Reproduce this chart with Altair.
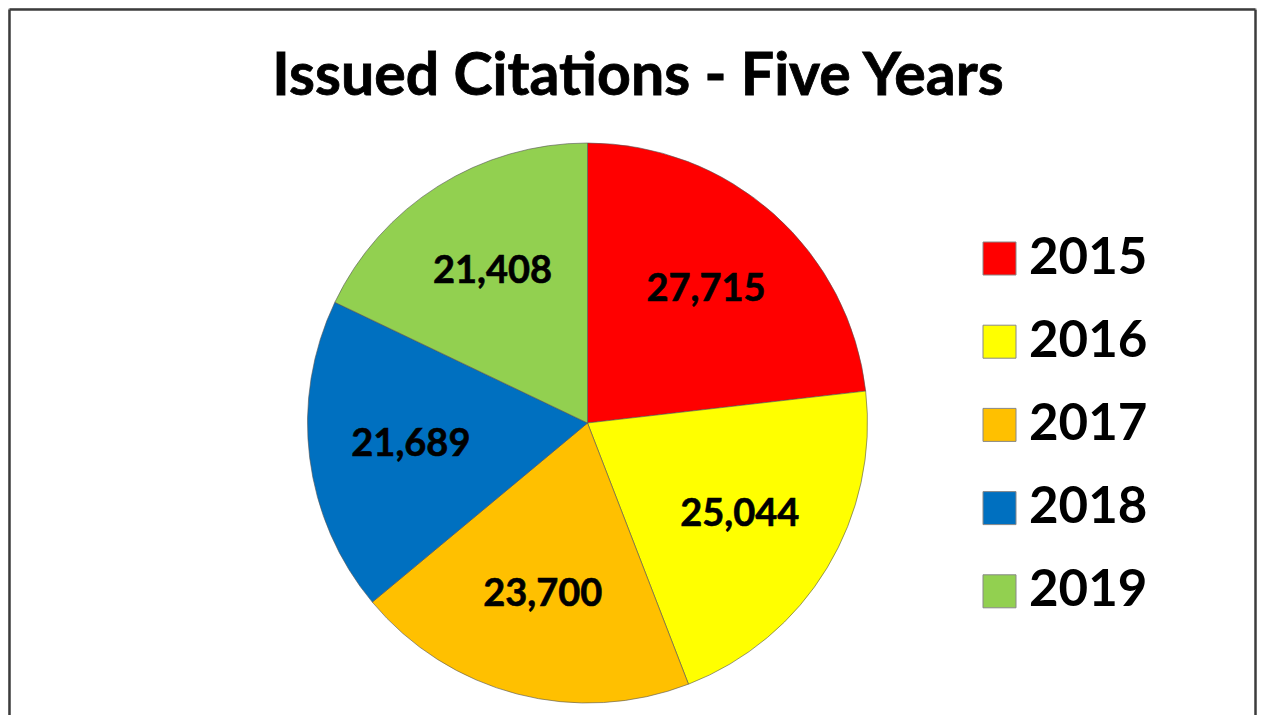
import altair as alt
import pandas as pd

years = ["2015", "2016", "2017", "2018", "2019"]
citations = [27715, 25044, 23700, 21689, 21408]
colors = ["#FF0000", "#FFFF00", "#FFC000", "#0070C0", "#92D050"]
title_text = "Issued Citations - Five Years"

df = pd.DataFrame({"year": years, "citations": citations})
df["label"] = [f"{v:,}" for v in citations]
df["order"] = range(len(years))

W, H = 1249, 707
CX, CY, R = 579.5, 415, 280

color = alt.Color(
    "year:N",
    scale=alt.Scale(domain=years, range=colors),
    legend=alt.Legend(
        title=None,
        orient="none",
        legendX=966,
        legendY=225,
        symbolType="square",
        symbolSize=1089,
        symbolStrokeWidth=1,
        symbolStrokeColor="#888888",
        labelFont="Lato",
        labelFontWeight="bold",
        labelFontSize=51,
        labelColor="black",
        labelOffset=4,
        rowPadding=31.2,
        labelLimit=400,
    ),
)

base = alt.Chart(df).encode(
    theta=alt.Theta("citations:Q", stack=True),
    order=alt.Order("order:Q"),
)

pie = base.mark_arc(outerRadius=R, stroke="#555555", strokeWidth=1, strokeOpacity=0.6).encode(
    color=color,
    x=alt.value(CX),
    y=alt.value(CY),
)

labels = base.mark_text(
    radius=178, font="Lato", fontWeight="bold", fontSize=38, color="black",
    align="center", baseline="middle", stroke="black", strokeWidth=0.6,
).encode(
    text="label:N",
    x=alt.value(CX),
    y=alt.value(CY),
)

one = pd.DataFrame({"t": [title_text]})
title = alt.Chart(one).mark_text(
    font="Lato", fontWeight="bold", fontSize=59, color="black",
    align="center", baseline="alphabetic", stroke="black", strokeWidth=0.8,
).encode(text="t:N", x=alt.value(630), y=alt.value(87))

frame = alt.Chart(one)
left = frame.mark_rule(color="#3c3c3c", strokeWidth=2.5).encode(
    x=alt.value(1.5), y=alt.value(1.5), y2=alt.value(H + 10))
top = frame.mark_rule(color="#3c3c3c", strokeWidth=2.5).encode(
    x=alt.value(1.5), x2=alt.value(W - 1.5), y=alt.value(1.5))
right = frame.mark_rule(color="#3c3c3c", strokeWidth=2.5).encode(
    x=alt.value(W - 1.5), y=alt.value(1.5), y2=alt.value(H + 10))

chart = alt.layer(pie, labels, title, left, top, right).properties(
    width=W, height=H, padding=0, autosize=alt.AutoSizeParams(type="none"),
).configure_view(stroke=None).configure(background="white")

chart.save("out.html", embed_options={"renderer": "svg", "actions": False})
